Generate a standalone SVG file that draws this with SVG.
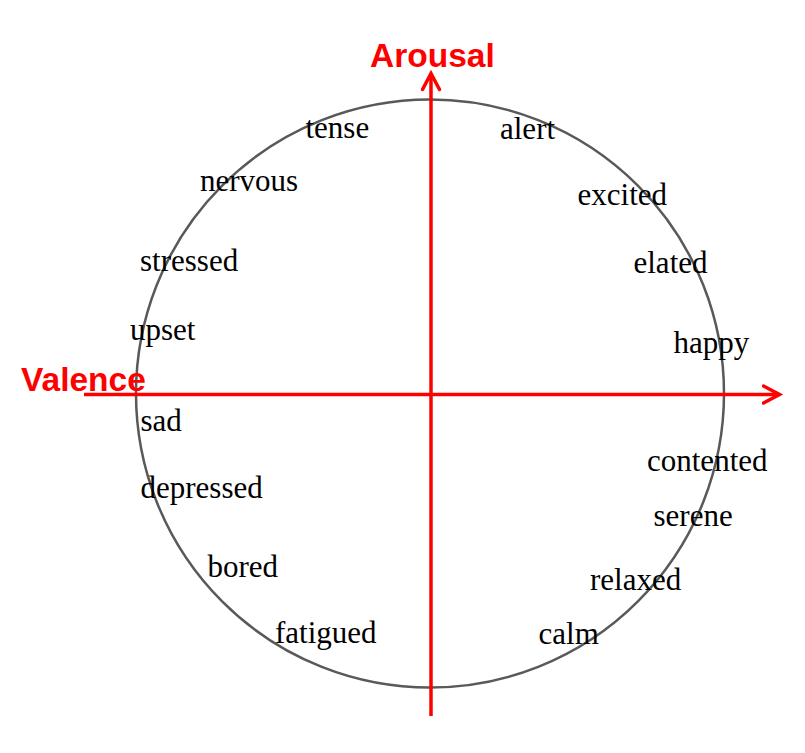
<svg xmlns="http://www.w3.org/2000/svg" width="805" height="753" viewBox="0 0 805 753">
<defs>
<style>
.lbl{font-family:"Liberation Serif","Times New Roman",serif;font-size:31px;fill:#000}
.axl{font-family:"Liberation Sans",Arial,sans-serif;font-size:33.5px;font-weight:bold;fill:#FF0000}
.ax{stroke:#FF0000;stroke-width:3.5;fill:none}
.head{stroke:#FF0000;stroke-width:3.5;fill:none;stroke-linecap:round;stroke-linejoin:miter}
</style>
<marker id="arr" markerUnits="userSpaceOnUse" markerWidth="24" markerHeight="24" refX="18" refY="12" orient="auto" viewBox="0 0 24 24">
<polyline points="2,3.5 18,12 2,20.5" class="head"/>
</marker>
</defs>
<rect width="805" height="753" fill="#FFFFFF"/>
<g id="circle">
<circle cx="430" cy="393.5" r="294" fill="none" stroke="#595959" stroke-width="2.5"/>
</g>
<g id="connectors">
<line class="ax" x1="431" y1="716" x2="431" y2="73.5" marker-end="url(#arr)"/>
<line class="ax" x1="84" y1="394.5" x2="779.5" y2="394.5" marker-end="url(#arr)"/>
</g>
<g id="axis-labels">
<text id="arousal" class="axl" x="370" y="66.5">Arousal</text>
<text id="valence" class="axl" x="21" y="390.5">Valence</text>
</g>
<g id="labels">
<text id="tense" class="lbl" x="305.5" y="138">tense</text>
<text id="nervous" class="lbl" x="200" y="191">nervous</text>
<text id="stressed" class="lbl" x="140" y="271">stressed</text>
<text id="upset" class="lbl" x="130" y="340">upset</text>
<text id="sad" class="lbl" x="140.5" y="430.5">sad</text>
<text id="depressed" class="lbl" x="140.5" y="498">depressed</text>
<text id="bored" class="lbl" x="207.5" y="577">bored</text>
<text id="fatigued" class="lbl" x="275" y="643">fatigued</text>
<text id="alert" class="lbl" x="500" y="138.5">alert</text>
<text id="excited" class="lbl" x="577.5" y="204.5">excited</text>
<text id="elated" class="lbl" x="633.5" y="273">elated</text>
<text id="happy" class="lbl" x="673.5" y="353">happy</text>
<text id="contented" class="lbl" x="647" y="470.5">contented</text>
<text id="serene" class="lbl" x="653.5" y="526">serene</text>
<text id="relaxed" class="lbl" x="590" y="589.5">relaxed</text>
<text id="calm" class="lbl" x="538.5" y="644">calm</text>
</g>
</svg>
